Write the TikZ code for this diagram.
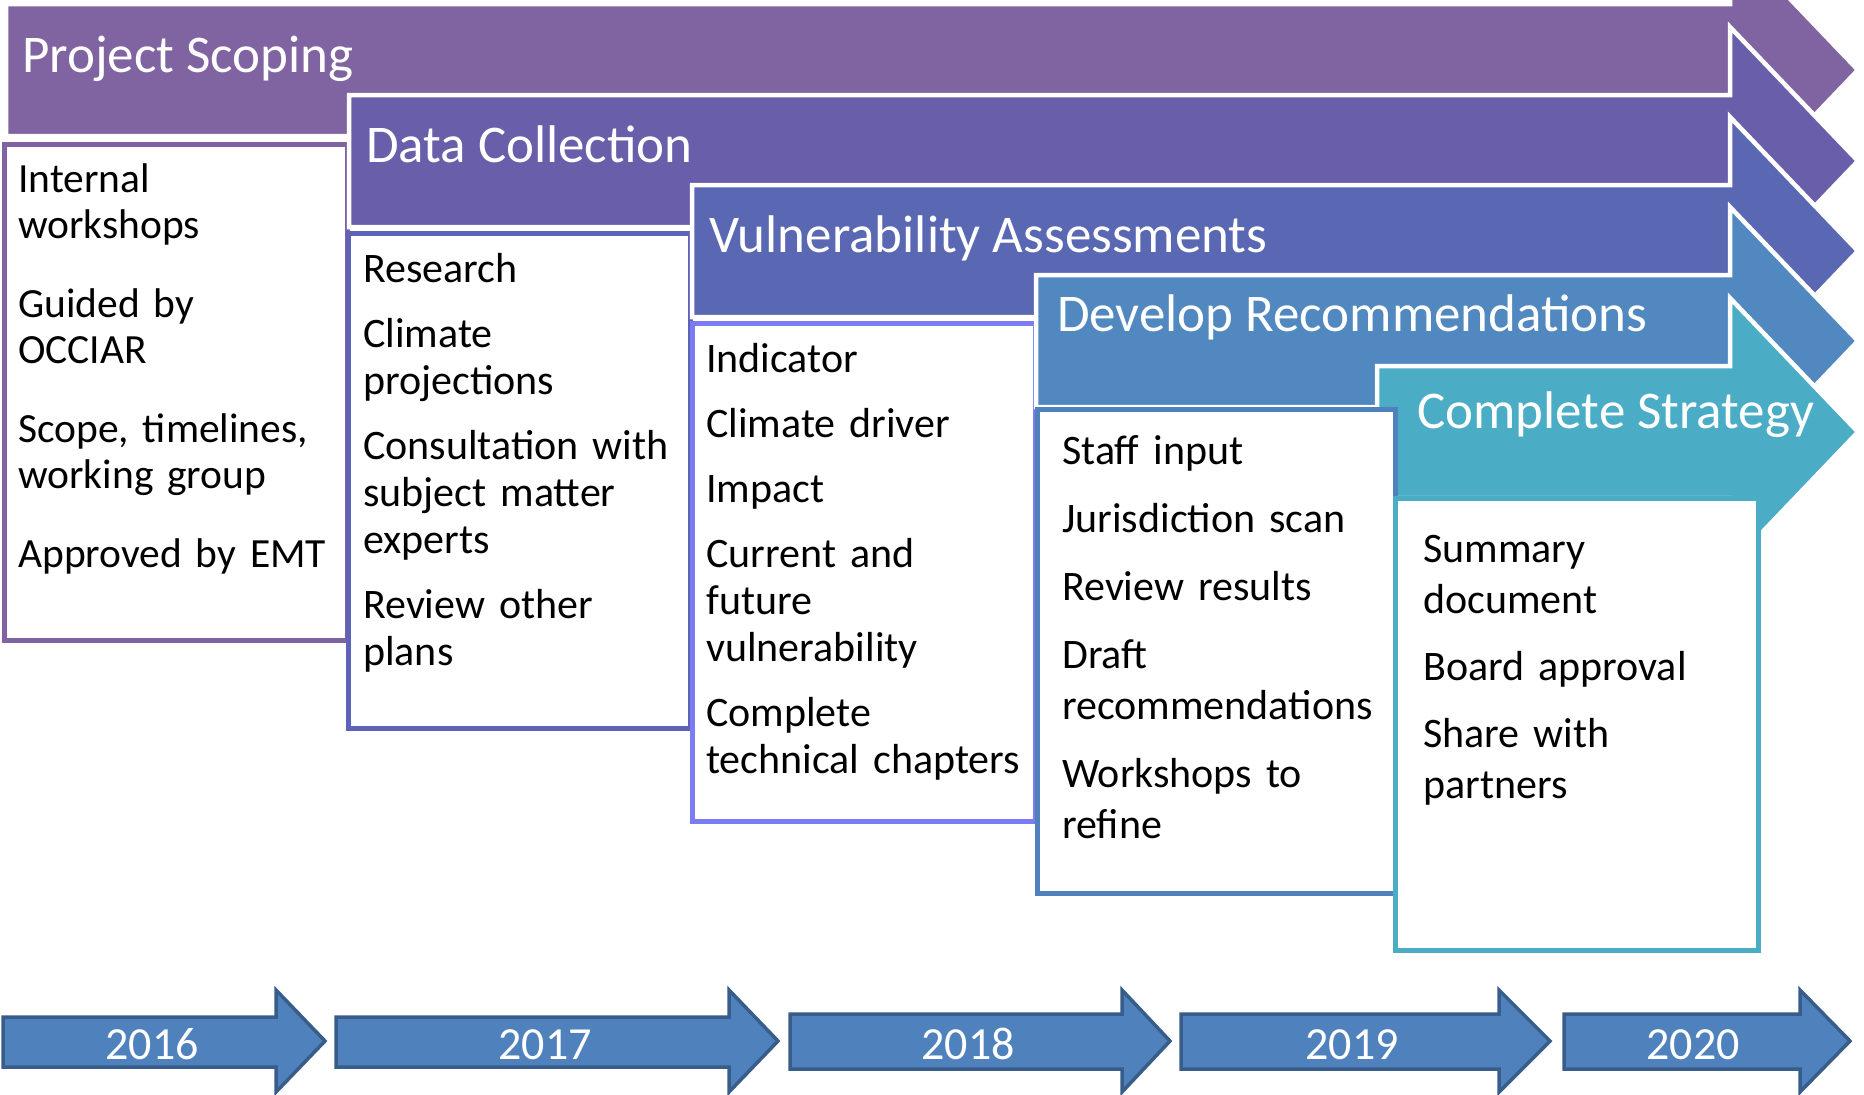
\documentclass[tikz,border=0pt]{standalone}
\usepackage{fontspec}
\setmainfont{Carlito}

% phase colours
\definecolor{scopingC}{HTML}{8064A2}
\definecolor{dataC}{HTML}{695EAA}
\definecolor{vulnC}{HTML}{5A67B3}
\definecolor{recoC}{HTML}{5088BF}
\definecolor{stratC}{HTML}{4BACC6}
% list box outlines
\definecolor{dataLine}{HTML}{5F63B8}
\definecolor{vulnLine}{HTML}{7B7BF4}
\definecolor{recoLine}{HTML}{4F81BD}
% year ribbon
\definecolor{yearFill}{HTML}{4F81BD}
\definecolor{yearLine}{HTML}{385D8A}

% #1 colour, #2 left end, #3 centre line of the shaft
\newcommand{\PhaseArrow}[3]{%
  \path[phasearrow, fill=#1] (#2,#3-66) -- (1730,#3-66) -- (1730,#3-134)
    -- (1858,#3) -- (1730,#3+134) -- (1730,#3+66) -- (#2,#3+66) -- cycle;}
% #1 left end, #2 head base, #3 tip, #4 shaft top, #5 shaft bottom
\newcommand{\YearArrow}[5]{%
  \path[yeararrow] (#1,#4) -- (#2,#4) -- (#2,990) -- (#3,1041)
    -- (#2,1092) -- (#2,#5) -- (#1,#5) -- cycle;}

\begin{document}
\begin{tikzpicture}[x=1pt, y=-1pt,
  phasearrow/.style={draw=white, line width=4.5pt, line join=miter},
  listbox/.style={fill=white, line width=5pt},
  yeararrow/.style={fill=yearFill, draw=yearLine, line width=3.5pt, line join=miter},
  phasetitle/.style={anchor=base west, inner sep=0pt, text=white,
    font=\fontsize{53}{60}\selectfont},
  items/.style={anchor=base west, inner sep=0pt, text width=345pt, align=left,
    text=black},
  yeartext/.style={anchor=base, inner sep=0pt, text=white,
    font=\fontsize{46}{50}\selectfont}]

\useasboundingbox (0,0) rectangle (1864,1095);
\clip (0,0) rectangle (1864,1095);
\fill[white] (0,0) rectangle (1864,1095);

% Project Scoping
\PhaseArrow{scopingC}{6}{70}
\node[phasetitle] (t1) at (22,72) {Project Scoping};
\draw[listbox, draw=scopingC] (4.5,144.5) rectangle (347,640);
\node[items, font=\fontsize{41.5}{46}\selectfont] (i1) at (18,192)
  {Internal\\ workshops\\[33pt] Guided by\\ OCCIAR\\[33pt]
   Scope, timelines,\\ working group\\[33pt] Approved by EMT};

% Data Collection
\PhaseArrow{dataC}{349}{161}
\node[phasetitle] (t2) at (366,162) {Data Collection};
\draw[listbox, draw=dataLine] (348.5,233.5) rectangle (690,728.5);
\node[items, font=\fontsize{42}{47}\selectfont] (i2) at (363,282)
  {Research\\[18pt] Climate\\ projections\\[18pt] Consultation with\\
   subject matter\\ experts\\[18pt] Review other\\ plans};

% Vulnerability Assessments
\PhaseArrow{vulnC}{692}{251}
\node[phasetitle] (t3) at (709,252) {Vulnerability Assessments};
\draw[listbox, draw=vulnLine] (692.5,323) rectangle (1035,821);
\node[items, font=\fontsize{42}{47}\selectfont] (i3) at (706,372)
  {Indicator\\[18pt] Climate driver\\[18pt] Impact\\[18pt] Current and\\
   future\\ vulnerability\\[18pt] Complete\\ technical chapters};

% Develop Recommendations and Complete Strategy arrows
\PhaseArrow{recoC}{1036}{341}
\node[phasetitle] (t4) at (1057,331) {Develop Recommendations};
\PhaseArrow{stratC}{1377}{432}
\node[phasetitle] (t5) at (1417,428) {Complete Strategy};

% their list boxes
\draw[listbox, draw=recoLine] (1037.5,409) rectangle (1395,893);
\node[items, font=\fontsize{42}{51}\selectfont] (i4) at (1062,464)
  {Staff input\\[17pt] Jurisdiction scan\\[17pt] Review results\\[17pt]
   Draft\\ recommendations\\[17pt] Workshops to\\ refine};
\draw[listbox, draw=stratC] (1395.5,498) rectangle (1758.5,950.5);
\node[items, font=\fontsize{42}{51}\selectfont] (i5) at (1423,562)
  {Summary\\ document\\[16pt] Board approval\\[16pt] Share with\\ partners};

% year ribbon
\YearArrow{3}{276}{325}{1017}{1067}
\YearArrow{336}{729}{778}{1017}{1067}
\YearArrow{790}{1122}{1170}{1014}{1069}
\YearArrow{1181}{1499}{1550}{1014}{1069}
\YearArrow{1564}{1800}{1850}{1014}{1069}
\node[yeartext] (y2016) at (152,1059) {2016};
\node[yeartext] (y2017) at (545,1059) {2017};
\node[yeartext] (y2018) at (968,1059) {2018};
\node[yeartext] (y2019) at (1352,1059) {2019};
\node[yeartext] (y2020) at (1693,1059) {2020};
\end{tikzpicture}
\end{document}
